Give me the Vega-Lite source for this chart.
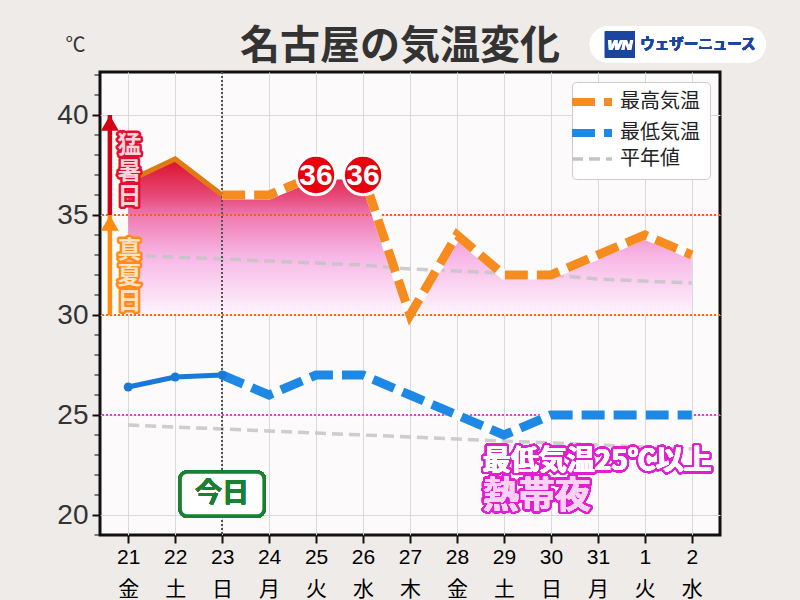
{
  "$schema": "https://vega.github.io/schema/vega-lite/v6.json",
  "width": 620,
  "height": 463,
  "autosize": {"type": "none"},
  "padding": {"left": 100, "top": 72, "right": 80, "bottom": 65},
  "background": "#eeebe9",
  "title": {
    "text": "名古屋の気温変化",
    "fontSize": 40,
    "fontWeight": "bold",
    "color": "#333333",
    "anchor": "middle",
    "dx": -10,
    "dy": 46,
    "offset": 6
  },
  "datasets": {
    "t": [
      {"i": 0, "max": 36.7, "min": 26.4, "nmax": 33.0, "nmin": 24.5},
      {"i": 1, "max": 37.8, "min": 26.9, "nmax": 32.9, "nmin": 24.4},
      {"i": 2, "max": 36.0, "min": 27.0, "nmax": 32.8, "nmin": 24.3},
      {"i": 3, "max": 36, "min": 26, "nmax": 32.7, "nmin": 24.2},
      {"i": 4, "max": 37, "min": 27, "nmax": 32.6, "nmin": 24.1},
      {"i": 5, "max": 37, "min": 27, "nmax": 32.5, "nmin": 24.0},
      {"i": 6, "max": 30, "min": 26, "nmax": 32.3, "nmin": 23.9},
      {"i": 7, "max": 34, "min": 25, "nmax": 32.2, "nmin": 23.8},
      {"i": 8, "max": 32, "min": 24, "nmax": 32.1, "nmin": 23.7},
      {"i": 9, "max": 32, "min": 25, "nmax": 32.0, "nmin": 23.6},
      {"i": 10, "max": 33, "min": 25, "nmax": 31.8, "nmin": 23.5},
      {"i": 11, "max": 34, "min": 25, "nmax": 31.7, "nmin": 23.4},
      {"i": 12, "max": 33, "min": 25, "nmax": 31.6, "nmin": 23.3}
    ],
    "badge": [
      {"i": 4, "v": 37, "label": "36"},
      {"i": 5, "v": 37, "label": "36"}
    ],
    "zone": [
      {"lo": 35, "hi": 40, "name": "猛\n暑\n日"},
      {"lo": 30, "hi": 35, "name": "真\n夏\n日"}
    ],
    "minor": [
      {"v": 19}, {"v": 21}, {"v": 22}, {"v": 23}, {"v": 24}, {"v": 26}, {"v": 27},
      {"v": 28}, {"v": 29}, {"v": 31}, {"v": 32}, {"v": 33}, {"v": 34}, {"v": 36},
      {"v": 37}, {"v": 38}, {"v": 39}, {"v": 41}, {"v": 42}
    ]
  },
  "data": {"name": "t"},
  "layer": [
    {
      "mark": {
        "type": "area",
        "fill": {
          "gradient": "linear",
          "x1": 0, "y1": 0, "x2": 0, "y2": 1,
          "stops": [
            {"offset": 0, "color": "#dc102c"},
            {"offset": 0.24, "color": "#e64a78"},
            {"offset": 0.37, "color": "#ef7cb0"},
            {"offset": 0.62, "color": "#f7b6e6"},
            {"offset": 0.85, "color": "#fbdcf4"},
            {"offset": 1, "color": "#fdf5fc"}
          ]
        }
      },
      "encoding": {
        "x": {
          "field": "i",
          "type": "quantitative",
          "scale": {"domain": [-0.6, 12.6], "nice": false, "zero": false},
          "axis": {
            "values": [0, 1, 2, 3, 4, 5, 6, 7, 8, 9, 10, 11, 12],
            "title": null,
            "grid": true,
            "gridColor": "#d9d9d9",
            "domain": false,
            "tickColor": "#111111",
            "tickSize": 8,
            "tickWidth": 2,
            "labelFont": "Liberation Sans, Noto Sans CJK JP",
            "labelFontSize": 21,
            "labelLineHeight": 32,
            "labelPadding": 3,
            "labelBaseline": "top",
            "labelFlush": false,
            "labelOverlap": false,
            "labelBound": false,
            "labelExpr": "[['21','金'],['22','土'],['23','日'],['24','月'],['25','火'],['26','水'],['27','木'],['28','金'],['29','土'],['30','日'],['31','月'],['1','火'],['2','水']][datum.value]",
            "encode": {
              "labels": {
                "update": {
                  "fill": {"signal": "datum.value == 1 || datum.value == 8 ? '#2f8fe0' : (datum.value == 2 || datum.value == 9 ? '#e23a3a' : '#333333')"}
                }
              }
            }
          }
        },
        "y": {
          "field": "max",
          "type": "quantitative",
          "scale": {"domain": [19, 42.15], "nice": false, "zero": false},
          "axis": {
            "values": [20, 25, 30, 35, 40],
            "title": "℃",
            "titleAngle": 0,
            "titleX": -25,
            "titleY": -27,
            "titleAlign": "center",
            "titleBaseline": "middle",
            "titleFontSize": 20,
            "titleFontWeight": "normal",
            "titleColor": "#333333",
            "grid": true,
            "gridColor": "#d9d9d9",
            "domain": false,
            "tickColor": "#111111",
            "tickSize": 8,
            "tickWidth": 2,
            "labelFont": "Liberation Sans",
            "labelFontSize": 28,
            "labelColor": "#333333",
            "labelPadding": 4
          }
        },
        "y2": {"datum": 30}
      }
    },
    {
      "data": {"name": "minor"},
      "mark": {"type": "tick", "orient": "horizontal", "size": 5, "thickness": 1.5, "color": "#111111", "xOffset": -3},
      "encoding": {
        "x": {"datum": -0.6},
        "y": {"field": "v", "type": "quantitative"}
      }
    },
    {
      "mark": {"type": "line", "opacity": 0.85, "strokeWidth": 3.5},
      "encoding": {
        "x": {"field": "i", "type": "quantitative"},
        "y": {"field": "nmax", "type": "quantitative"},
        "color": {"datum": "平年値"},
        "strokeDash": {"datum": "平年値"}
      }
    },
    {
      "mark": {"type": "line", "opacity": 0.85, "strokeWidth": 3.5},
      "encoding": {
        "x": {"field": "i", "type": "quantitative"},
        "y": {"field": "nmin", "type": "quantitative"},
        "color": {"datum": "平年値"},
        "strokeDash": {"datum": "平年値"}
      }
    },
    {
      "mark": {"type": "rule", "color": "#ff5a1e", "strokeWidth": 2, "strokeDash": [2, 2]},
      "encoding": {"y": {"datum": 35}}
    },
    {
      "mark": {"type": "rule", "color": "#ff6a10", "strokeWidth": 2, "strokeDash": [2, 2]},
      "encoding": {"y": {"datum": 30}}
    },
    {
      "mark": {"type": "rule", "color": "#e040e0", "strokeWidth": 2, "strokeDash": [2, 2]},
      "encoding": {"y": {"datum": 25}}
    },
    {
      "mark": {"type": "rule", "color": "#555555", "strokeWidth": 1.5, "strokeDash": [2, 2]},
      "encoding": {"x": {"datum": 2}}
    },
    {
      "transform": [{"filter": "datum.i >= 2"}],
      "mark": {"type": "line", "color": "#ffffff", "strokeWidth": 9},
      "encoding": {
        "x": {"field": "i", "type": "quantitative"},
        "y": {"field": "max", "type": "quantitative"}
      }
    },
    {
      "transform": [{"filter": "datum.i >= 2"}],
      "mark": {"type": "line", "strokeWidth": 9},
      "encoding": {
        "x": {"field": "i", "type": "quantitative"},
        "y": {"field": "max", "type": "quantitative"},
        "color": {
          "datum": "最高気温",
          "scale": {"domain": ["最高気温", "最低気温", "平年値"], "range": ["#f68b1f", "#1e88e5", "#c4c4c4"]},
          "legend": {
            "title": null,
            "encode": {
              "symbols": {
                "update": {"strokeWidth": {"signal": "datum.value == '平年値' ? 3.5 : 8"}}
              }
            }
          }
        },
        "strokeDash": {
          "datum": "最高気温",
          "scale": {"domain": ["最高気温", "最低気温", "平年値"], "range": [[23, 9], [23, 9], [11, 6]]},
          "legend": {"title": null}
        }
      }
    },
    {
      "transform": [{"filter": "datum.i >= 2"}],
      "mark": {"type": "line", "color": "#ffffff", "strokeWidth": 9},
      "encoding": {
        "x": {"field": "i", "type": "quantitative"},
        "y": {"field": "min", "type": "quantitative"}
      }
    },
    {
      "transform": [{"filter": "datum.i >= 2"}],
      "mark": {"type": "line", "strokeWidth": 9},
      "encoding": {
        "x": {"field": "i", "type": "quantitative"},
        "y": {"field": "min", "type": "quantitative"},
        "color": {"datum": "最低気温"},
        "strokeDash": {"datum": "最低気温"}
      }
    },
    {
      "transform": [{"filter": "datum.i <= 2"}],
      "mark": {"type": "line", "color": "#e07a12", "strokeWidth": 5},
      "encoding": {
        "x": {"field": "i", "type": "quantitative"},
        "y": {"field": "max", "type": "quantitative"}
      }
    },
    {
      "transform": [{"filter": "datum.i <= 2"}],
      "mark": {"type": "line", "color": "#1a78d8", "strokeWidth": 5, "point": {"filled": true, "size": 80, "color": "#1a78d8"}},
      "encoding": {
        "x": {"field": "i", "type": "quantitative"},
        "y": {"field": "min", "type": "quantitative"}
      }
    },
    {
      "data": {"name": "badge"},
      "mark": {"type": "point", "shape": "circle", "filled": true, "size": 1550, "color": "#e8000e", "stroke": "#ffffff", "strokeWidth": 3, "opacity": 1},
      "encoding": {
        "x": {"field": "i", "type": "quantitative"},
        "y": {"field": "v", "type": "quantitative"}
      }
    },
    {
      "data": {"name": "badge"},
      "mark": {"type": "text", "font": "Liberation Sans", "color": "#ffffff", "fontSize": 30, "fontWeight": "bold", "baseline": "middle", "dy": 1},
      "encoding": {
        "x": {"field": "i", "type": "quantitative"},
        "y": {"field": "v", "type": "quantitative"},
        "text": {"field": "label"}
      }
    },
    {
      "data": {"name": "zone"},
      "transform": [{"filter": "datum.lo == 35"}],
      "layer": [
        {
          "mark": {"type": "rule", "color": "#d40018", "strokeWidth": 4.5},
          "encoding": {"x": {"datum": -0.39}, "y": {"field": "lo", "type": "quantitative"}, "y2": {"field": "hi"}}
        },
        {
          "mark": {"type": "point", "shape": "triangle-up", "filled": true, "size": 320, "color": "#d40018", "opacity": 1, "yOffset": 8},
          "encoding": {"x": {"datum": -0.39}, "y": {"field": "hi", "type": "quantitative"}}
        },
        {
          "mark": {"type": "text", "lineBreak": "\n", "fontSize": 24, "lineHeight": 25.5, "fontWeight": "bold", "baseline": "middle", "dy": 31, "color": "#e01030", "stroke": "#e01030", "strokeWidth": 5, "strokeJoin": "round"},
          "encoding": {"x": {"datum": 0.03}, "y": {"field": "hi", "type": "quantitative"}, "text": {"field": "name"}}
        },
        {
          "mark": {"type": "text", "lineBreak": "\n", "fontSize": 24, "lineHeight": 25.5, "fontWeight": "bold", "baseline": "middle", "dy": 31, "color": "#ffd3dc"},
          "encoding": {"x": {"datum": 0.03}, "y": {"field": "hi", "type": "quantitative"}, "text": {"field": "name"}}
        }
      ]
    },
    {
      "data": {"name": "zone"},
      "transform": [{"filter": "datum.lo == 30"}],
      "layer": [
        {
          "mark": {"type": "rule", "color": "#ff8c10", "strokeWidth": 4.5},
          "encoding": {"x": {"datum": -0.39}, "y": {"field": "lo", "type": "quantitative"}, "y2": {"field": "hi"}}
        },
        {
          "mark": {"type": "point", "shape": "triangle-up", "filled": true, "size": 320, "color": "#ff8c10", "opacity": 1, "yOffset": 8},
          "encoding": {"x": {"datum": -0.39}, "y": {"field": "hi", "type": "quantitative"}}
        },
        {
          "mark": {"type": "text", "lineBreak": "\n", "fontSize": 24, "lineHeight": 25.5, "fontWeight": "bold", "baseline": "middle", "dy": 36, "color": "#ff8c1a", "stroke": "#ff8c1a", "strokeWidth": 5, "strokeJoin": "round"},
          "encoding": {"x": {"datum": 0.03}, "y": {"field": "hi", "type": "quantitative"}, "text": {"field": "name"}}
        },
        {
          "mark": {"type": "text", "lineBreak": "\n", "fontSize": 24, "lineHeight": 25.5, "fontWeight": "bold", "baseline": "middle", "dy": 36, "color": "#ffe2c2"},
          "encoding": {"x": {"datum": 0.03}, "y": {"field": "hi", "type": "quantitative"}, "text": {"field": "name"}}
        }
      ]
    },
    {
      "mark": {"type": "rect", "width": 84, "height": 44, "cornerRadius": 7, "fill": "#ffffff", "stroke": "#1a8033", "strokeWidth": 3.5},
      "encoding": {"x": {"datum": 2}, "y": {"datum": 21.05}}
    },
    {
      "mark": {"type": "text", "text": "今日", "fontSize": 27, "fontWeight": "bold", "color": "#1a8033", "baseline": "middle"},
      "encoding": {"x": {"datum": 2}, "y": {"datum": 21.05}}
    },
    {
      "mark": {"type": "text", "text": "最低気温25℃以上", "fontSize": 28, "fontWeight": "bold", "align": "left", "baseline": "middle", "color": "#e020d0", "stroke": "#e020d0", "strokeWidth": 5, "strokeJoin": "round"},
      "encoding": {"x": {"datum": 7.55}, "y": {"datum": 22.65}}
    },
    {
      "mark": {"type": "text", "text": "最低気温25℃以上", "fontSize": 28, "fontWeight": "bold", "align": "left", "baseline": "middle", "color": "#ffffff"},
      "encoding": {"x": {"datum": 7.55}, "y": {"datum": 22.65}}
    },
    {
      "mark": {"type": "text", "text": "熱帯夜", "fontSize": 36, "fontWeight": "bold", "align": "left", "baseline": "middle", "color": "#e020d0", "stroke": "#e020d0", "strokeWidth": 5, "strokeJoin": "round"},
      "encoding": {"x": {"datum": 7.55}, "y": {"datum": 20.9}}
    },
    {
      "mark": {"type": "text", "text": "熱帯夜", "fontSize": 36, "fontWeight": "bold", "align": "left", "baseline": "middle", "color": "#fcd2f4"},
      "encoding": {"x": {"datum": 7.55}, "y": {"datum": 20.9}}
    },
    {
      "mark": {"type": "rect", "width": 176, "height": 36, "cornerRadius": 18, "fill": "#ffffff"},
      "encoding": {"x": {"datum": 11.7}, "y": {"datum": 43.52}}
    },
    {
      "mark": {"type": "rect", "width": 30, "height": 26, "fill": "#1a46a0"},
      "encoding": {"x": {"datum": 10.47}, "y": {"datum": 43.52}}
    },
    {
      "mark": {"type": "text", "text": "WN", "font": "Liberation Sans", "fontSize": 15, "fontWeight": "bold", "fontStyle": "italic", "color": "#ffffff", "baseline": "middle"},
      "encoding": {"x": {"datum": 10.47}, "y": {"datum": 43.52}}
    },
    {
      "mark": {"type": "text", "text": "ウェザーニュース", "fontSize": 14.5, "fontWeight": "bold", "color": "#1a46a0", "align": "left", "baseline": "middle"},
      "encoding": {"x": {"datum": 10.9}, "y": {"datum": 43.52}}
    }
  ],
  "config": {
    "font": "Noto Sans CJK JP",
    "view": {"fill": "#fcfafb", "stroke": "#111111", "strokeWidth": 3},
    "axis": {"labelFont": "Noto Sans CJK JP", "titleFont": "Noto Sans CJK JP"},
    "legend": {
      "orient": "top-right",
      "offset": 10,
      "fillColor": "#ffffff",
      "strokeColor": "#cccccc",
      "cornerRadius": 4,
      "padding": 10,
      "labelFont": "Noto Sans CJK JP",
      "labelFontSize": 20,
      "labelColor": "#222222",
      "labelOffset": 18,
      "symbolType": "stroke",
      "symbolSize": 1600,
      "rowPadding": -1
    }
  }
}
